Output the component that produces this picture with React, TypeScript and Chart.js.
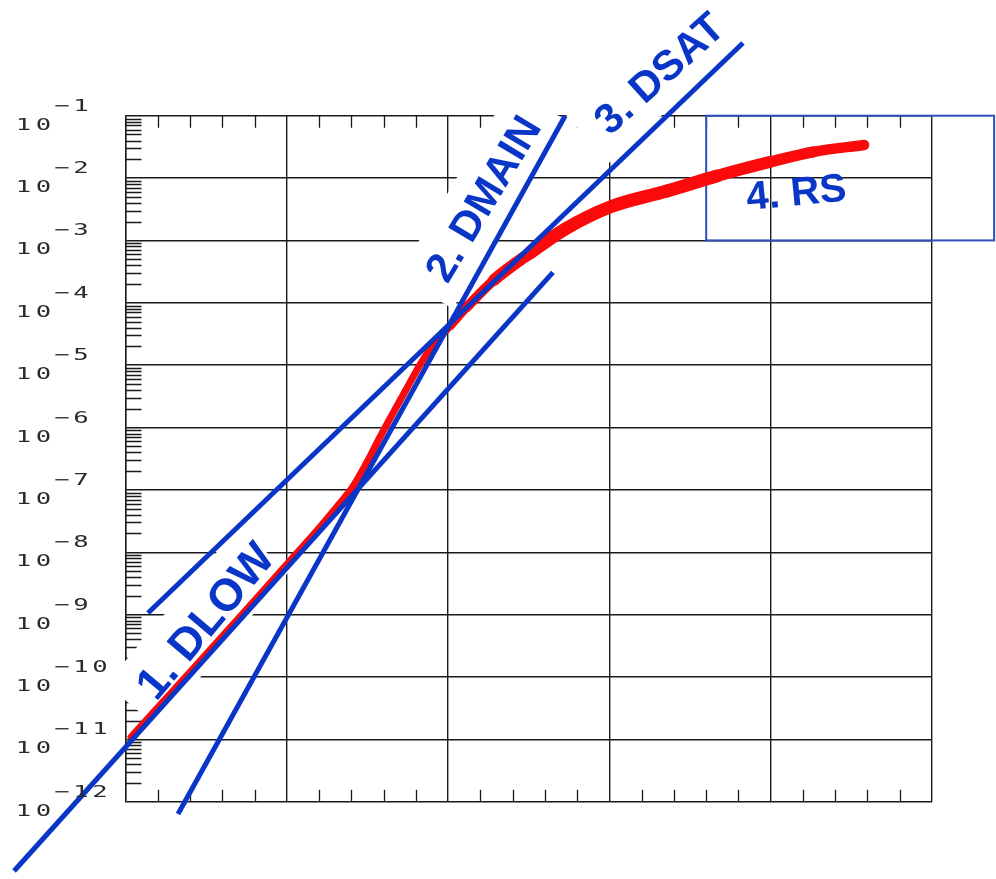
import React, { useEffect, useRef } from 'react';
import { Chart, registerables } from 'chart.js';

Chart.register(...registerables);

// ---- data (x in grid units, y on a log scale) ----
const curveX = [0.034, 0.4, 0.797, 1.007, 1.206, 1.33, 1.404, 1.491, 1.578, 1.745, 1.832, 1.931, 2.012, 2.117, 2.285, 2.508, 2.725, 3.004, 3.357, 3.667, 3.996, 4.262, 4.579];
const curveY = [1.09e-11, 1.2e-10, 1.65e-9, 6.71e-9, 2.54e-8, 6.15e-8, 1.07e-7, 2.6e-7, 7.05e-7, 4.3e-6, 1.08e-5, 2.53e-5, 4.24e-5, 8.55e-5, 2.32e-4, 6.28e-4, 1.52e-3, 3.44e-3, 6.2e-3, 1.08e-2, 1.81e-2, 2.62e-2, 3.39e-2];

const dlowX = [-0.691, 2.65];
const dlowY = [7.73e-14, 3.07e-4];
const dmainX = [0.3255, 2.725];
const dmainY = [6.34e-13, 9.9e-2];
const dsatX = [0.1395, 3.828];
const dsatY = [1.06e-9, 1.465];

const xMin = 0;
const xMax = 5;
const xMinorStep = 0.2;
const yExponents = [-1, -2, -3, -4, -5, -6, -7, -8, -9, -10, -11, -12];
const yMinorMultipliers = [2, 3, 4, 5, 6, 7, 8, 9];

const rsBoxX = [3.6, 5.385];
const rsBoxY = [1e-3, 1e-1];

const labelTexts = ['1. DLOW', '2. DMAIN', '3. DSAT', '4. RS'];
const labelX = [0.487, 2.21, 3.304, 4.157];
const labelY = [8.2e-10, 4.79e-3, 0.493, 6.2e-3];

// ---- styles ----
const GRID = '#1a1a1a';
const BLUE = '#0a36c8';
const RED = '#fa0a0a';
const LABEL_STYLE = [
  { angle: -50, size: 45, u0: -112, u1: 92, h: 34, box: true },
  { angle: -59, size: 42, u0: -110, u1: 110, h: 32, box: true },
  { angle: -42, size: 42, u0: -97, u1: 95, h: 34, box: true },
  { angle: -5.5, size: 40, u0: 0, u1: 0, h: 0, box: false },
];

const toXY = (xs: number[], ys: number[]) => xs.map((x, i) => ({ x, y: ys[i] }));

const drawMono = (ctx: CanvasRenderingContext2D, text: string, firstCenter: number, baseline: number, advance: number, sx: number) => {
  for (let i = 0; i < text.length; i++) {
    ctx.save();
    ctx.translate(firstCenter + i * advance, baseline);
    ctx.scale(sx, 1);
    ctx.textAlign = 'center';
    ctx.textBaseline = 'alphabetic';
    ctx.fillText(text[i], 0, 0);
    ctx.restore();
  }
};

const decorPlugin = {
  id: 'decor',
  beforeDatasetsDraw(chart: any) {
    const { ctx, chartArea, scales } = chart;
    const x = scales.x;
    const y = scales.y;
    ctx.save();
    ctx.strokeStyle = GRID;
    ctx.lineWidth = 1.3;
    ctx.beginPath();
    // inward minor ticks top & bottom
    const n = Math.round((xMax - xMin) / xMinorStep);
    for (let k = 1; k < n; k++) {
      if (k % 5 === 0) continue;
      const px = Math.round(x.getPixelForValue(xMin + k * xMinorStep)) + 0.5;
      ctx.moveTo(px, chartArea.top);
      ctx.lineTo(px, chartArea.top + 12);
      ctx.moveTo(px, chartArea.bottom);
      ctx.lineTo(px, chartArea.bottom - 12);
    }
    // log minor ticks on the left axis
    yExponents.forEach((e) => {
      if (e === -1) return;
      yMinorMultipliers.forEach((m) => {
        const py = Math.round(y.getPixelForValue(m * Math.pow(10, e))) + 0.5;
        ctx.moveTo(chartArea.left, py);
        ctx.lineTo(chartArea.left + 16, py);
      });
    });
    ctx.stroke();

    // RS outline box
    ctx.strokeStyle = '#2d4fc0';
    ctx.lineWidth = 2;
    const bx0 = x.getPixelForValue(rsBoxX[0]);
    const bx1 = x.getPixelForValue(rsBoxX[1]);
    const by0 = y.getPixelForValue(rsBoxY[1]);
    const by1 = y.getPixelForValue(rsBoxY[0]);
    ctx.strokeRect(bx0, by0, bx1 - bx0, by1 - by0);

    // white backgrounds of the rotated labels
    ctx.fillStyle = '#ffffff';
    labelTexts.forEach((t, i) => {
      const s = LABEL_STYLE[i];
      if (!s.box) return;
      const cx = x.getPixelForValue(labelX[i]);
      const cy = y.getPixelForValue(labelY[i]);
      ctx.save();
      ctx.translate(cx, cy);
      ctx.rotate((s.angle * Math.PI) / 180);
      ctx.fillRect(s.u0, -s.h, s.u1 - s.u0, 2 * s.h);
      ctx.restore();
    });
    ctx.restore();
  },
  afterDatasetsDraw(chart: any) {
    const { ctx, scales } = chart;
    const x = scales.x;
    const y = scales.y;
    ctx.save();
    ctx.fillStyle = BLUE;
    labelTexts.forEach((t, i) => {
      const s = LABEL_STYLE[i];
      const cx = x.getPixelForValue(labelX[i]);
      const cy = y.getPixelForValue(labelY[i]);
      ctx.save();
      ctx.translate(cx, cy);
      ctx.rotate((s.angle * Math.PI) / 180);
      ctx.font = `bold ${s.size}px "Liberation Sans", Arial, sans-serif`;
      ctx.textAlign = 'center';
      ctx.textBaseline = 'alphabetic';
      ctx.fillText(t, 0, s.size * 0.358);
      ctx.restore();
    });
    ctx.restore();
  },
  afterDraw(chart: any) {
    const { ctx, scales } = chart;
    const y = scales.y;
    ctx.save();
    ctx.fillStyle = '#2a2a2a';
    ctx.font = '16px "DejaVu Sans Mono", monospace';
    yExponents.forEach((e) => {
      const gy = y.getPixelForValue(Math.pow(10, e));
      drawMono(ctx, '10', 23.5, gy + 14, 20, 1.6);
      drawMono(ctx, '\u2212' + String(Math.abs(e)), 62, gy - 5, 19, 1.6);
    });
    ctx.restore();
  },
};

const redWidth = (c: any) => {
  const xm = (c.p0.parsed.x + c.p1.parsed.x) / 2;
  if (xm < 1.9) return 7;
  if (xm < 2.5) return 7 + ((xm - 1.9) / 0.6) * 6;
  if (xm < 3.5) return 13;
  return 13 - ((xm - 3.5) / 1.1) * 3;
};

export default function App() {
  const ref = useRef<HTMLCanvasElement | null>(null);
  useEffect(() => {
    if (!ref.current) return;
    const blueLine = (label: string, xs: number[], ys: number[]) => ({
      label,
      data: toXY(xs, ys),
      showLine: true,
      borderColor: BLUE,
      borderWidth: 5,
      borderCapStyle: 'butt',
      pointRadius: 0,
      tension: 0,
      clip: false,
    });
    const chart = new Chart(ref.current, {
      type: 'scatter',
      data: {
        datasets: [
          blueLine('DLOW', dlowX, dlowY),
          blueLine('DMAIN', dmainX, dmainY),
          blueLine('DSAT', dsatX, dsatY),
          {
            label: 'ID',
            data: toXY(curveX, curveY),
            showLine: true,
            borderColor: RED,
            borderWidth: 7,
            borderCapStyle: 'round',
            borderJoinStyle: 'round',
            cubicInterpolationMode: 'monotone',
            pointRadius: 0,
            clip: false,
            segment: { borderWidth: redWidth },
          } as any,
        ],
      },
      options: {
        responsive: false,
        animation: false,
        layout: { padding: { left: 125.5, top: 115.7, right: 64, bottom: 77.3 } },
        plugins: { legend: { display: false }, tooltip: { enabled: false } },
        scales: {
          x: {
            type: 'linear',
            min: xMin,
            max: xMax,
            ticks: { display: false, stepSize: 1 },
            grid: { color: GRID, lineWidth: 1.4, drawTicks: false },
            border: { display: false },
            afterFit: (s: any) => { s.height = 0; },
          },
          y: {
            type: 'logarithmic',
            min: Math.pow(10, -12),
            max: Math.pow(10, -1),
            ticks: { display: false },
            grid: { color: GRID, lineWidth: 1.4, drawTicks: false },
            border: { display: true, color: GRID, width: 1.4 },
            afterBuildTicks: (s: any) => {
              s.ticks = yExponents.map((e) => ({ value: Math.pow(10, e) }));
            },
            afterFit: (s: any) => { s.width = 0; },
          },
        },
      } as any,
      plugins: [decorPlugin],
    });
    return () => chart.destroy();
  }, []);

  return (
    <div style={{ position: 'absolute', left: 0, top: 0, width: 996, height: 879, background: '#fff' }}>
      <canvas ref={ref} width={996} height={879} />
    </div>
  );
}
